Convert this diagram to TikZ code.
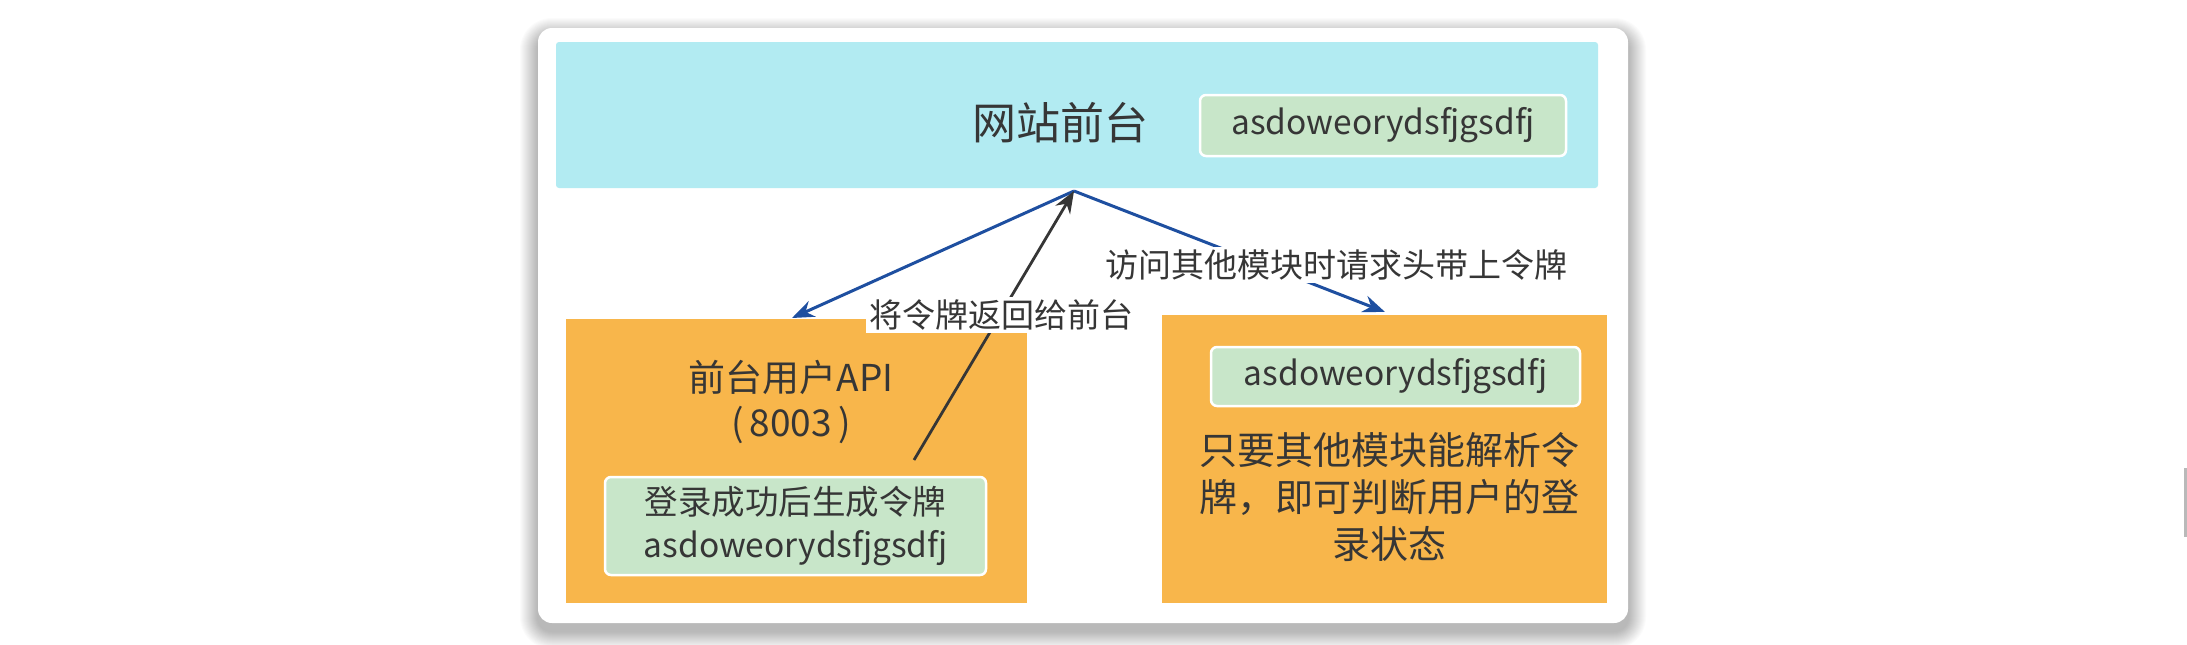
\documentclass[tikz,border=0pt]{standalone}
\usepackage{fontspec}
\setmainfont{Noto Sans CJK SC}
\usetikzlibrary{arrows.meta}
\definecolor{cyanbg}{HTML}{B2EBF2}
\definecolor{orangebg}{HTML}{F8B64B}
\definecolor{greenbg}{HTML}{C8E6C9}
\definecolor{txt}{HTML}{363636}
\definecolor{bluearrow}{HTML}{1E4FA0}
\begin{document}
\begin{tikzpicture}[x=1pt,y=-1pt,
  every node/.style={text=txt, inner sep=0pt, outer sep=0pt},
  tokenbox/.style={fill=greenbg, draw=white, line width=2.5pt, rounded corners=6pt, font=\fontsize{33.5}{40}\selectfont},
  orangebox/.style={fill=orangebg},
  lbl/.style={fill=white, inner sep=3pt, font=\fontsize{33}{40}\selectfont},
  bluearr/.style={draw=bluearrow, line width=3pt, -{Stealth[length=22pt,width=17pt]}},
  blackarr/.style={draw=txt, line width=2.8pt, -{Stealth[length=22pt,width=17pt]}}
]
\useasboundingbox (0,0) rectangle (2187,645);
\fill[white] (0,0) rectangle (2187,645);
% card shadow
\foreach \i in {1,...,18}{
  \fill[black, opacity=0.015, rounded corners=14+\i] (538-\i,36-\i) rectangle (1628+\i,631+\i);
}
\node[fill=white, rounded corners=14pt, minimum width=1090pt, minimum height=595pt] (card) at (1083,325.5) {};
% header
\node[fill=cyanbg, rounded corners=3pt, minimum width=1042pt, minimum height=146pt] (header) at (1077,115) {};
\node[font=\fontsize{44}{50}\selectfont] (title) at (1060,123) {网站前台};
\node[tokenbox, minimum width=366pt, minimum height=61pt] (htoken) at (1383,125.5) {asdoweorydsfjgsdfj};
% left box
\node[orangebox, minimum width=461pt, minimum height=284pt] (lbox) at (796.5,461) {};
\node[font=\fontsize{37}{44}\selectfont] (lname) at (791,377) {前台用户API};
\node[font=\fontsize{37}{44}\selectfont] (lport) at (791,425) {(\,8003\,)};
\node[tokenbox, minimum width=381pt, minimum height=98pt, align=center, font=\fontsize{33.5}{43}\selectfont] (ltoken) at (795.5,526) {登录成功后生成令牌\\asdoweorydsfjgsdfj};
% right box
\node[orangebox, minimum width=445pt, minimum height=288pt] (rbox) at (1384.5,459) {};
\node[tokenbox, minimum width=369pt, minimum height=59pt] (rtoken) at (1395.5,376.5) {asdoweorydsfjgsdfj};
\node[align=center, font=\fontsize{38}{47}\selectfont] (rtext) at (1389,497) {只要其他模块能解析令\\牌，即可判断用户的登\\录状态};
% connectors
\coordinate (apex) at (1074,191);
\coordinate (lend) at (792,318);
\coordinate (rend) at (1385,312);
\coordinate (bstart) at (914,460);
\draw[bluearr] (apex) -- (lend);
\draw[bluearr] (apex) -- (rend);
\draw[blackarr] (bstart) -- (apex);
\node[lbl] (lbl1) at (1001,315) {将令牌返回给前台};
\node[lbl] (lbl2) at (1336,265) {访问其他模块时请求头带上令牌};
% scrollbar sliver
\fill[gray!55] (2184,468) rectangle (2187,537);
\end{tikzpicture}
\end{document}
